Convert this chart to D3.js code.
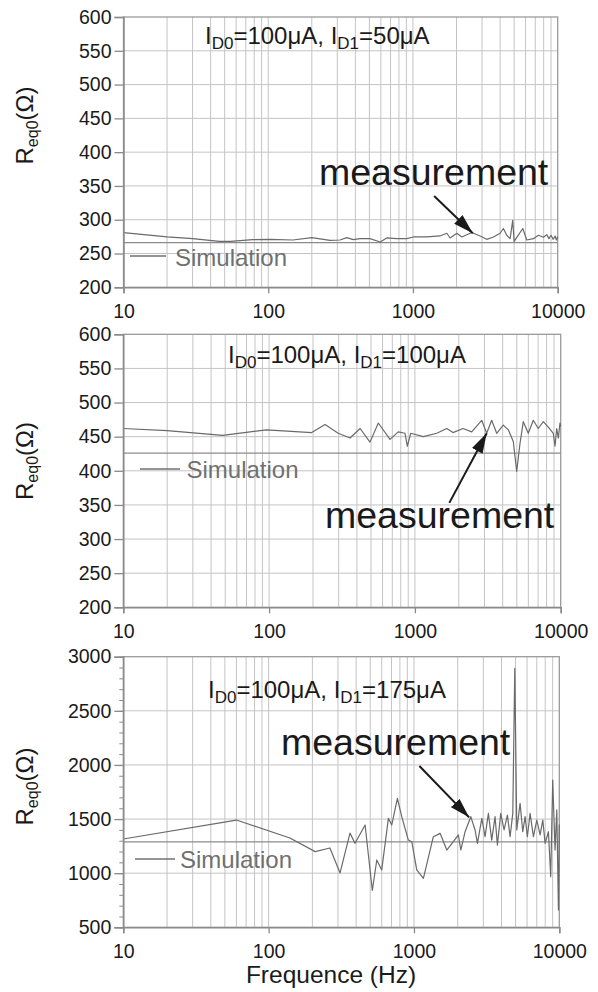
<!DOCTYPE html>
<html><head><meta charset="utf-8">
<script src="https://cdn.jsdelivr.net/npm/d3@7"></script>
<style>body{margin:0;background:#fff}svg{display:block}text{font-family:"Liberation Sans",Arial,Helvetica,sans-serif}</style>
</head><body><svg id="c" width="598" height="992"></svg>
<script>
// ---------- data ----------
const xTicks = [10, 100, 1000, 10000];
const yTicksLow = [200, 250, 300, 350, 400, 450, 500, 550, 600];
const yTicksHigh = [500, 1000, 1500, 2000, 2500, 3000];
const yMinorHigh = [500,600,700,800,900,1000,1100,1200,1300,1400,1500,1600,1700,1800,1900,2000,2100,2200,2300,2400,2500,2600,2700,2800,2900,3000];

const simFreq = [10, 10000];
const sim1 = [266, 266];
const sim2 = [426, 426];
const sim3 = [1290, 1290];

const freq1 = [10,20,30,46,55,78,103,148,200,267,313,349,387,431,505,593,659,771,906,1007,1245,1538,1714,1805,2010,2175,2548,2908,3236,3597,4000,4213,4445,4690,4890,5000,5217,5738,6115,6800,7360,7975,8400,8700,9000,9300,9600,9800,10000];
const meas1 = [281,274.5,272,268,268,270.5,271,270,273.5,269.5,270,273.5,270.5,272,272,267,273,272,272,274.5,274.5,276,280,273,280,274.5,281,276,271,274.5,280,287,277,272,299,268,274,287,270,272,277,274,278,272,277,271,276,270,275];

const freq2 = [10,20,48,96,196,242,298,359,421,492,561,675,769,855,887,936,1142,1412,1653,1825,2138,2453,2873,3107,3363,3639,4039,4371,4731,4991,5258,5539,5993,6486,7016,7597,8222,8896,9141,9390,9638,9886,10000];
const meas2 = [462,459,452,460,456,468,455,448,462,442,470,446,457,455,436,455,450,455,462,456,462,457,474,455,474,455,467,460,443,399,440,472,455,474,462,472,464,455,436,462,448,470,465];

const freq3 = [10,60,140,209,264,310,363,393,461,517,555,600,667,703,769,824,915,966,1045,1161,1359,1513,1682,1867,2021,2100,2248,2460,2633,2733,2930,3085,3251,3428,3614,3750,3955,4169,4395,4586,4786,4939,5098,5373,5605,5817,6030,6295,6637,7000,7379,7700,7985,8415,8730,9012,9346,9609,9862,10000];
const meas3 = [1316,1491,1325,1199,1233,1002,1370,1276,1445,840,1122,1030,1507,1445,1692,1522,1306,1291,1030,953,1337,1368,1214,1291,1353,1214,1383,1522,1399,1276,1507,1337,1553,1306,1522,1260,1553,1399,1537,1337,1553,2893,1399,1645,1383,1522,1337,1553,1337,1491,1353,1491,1276,1383,968,1861,1214,1584,660,1450];

const titles = [
  ["I","D0","=100μA, ","I","D1","=50μA"],
  ["I","D0","=100μA, ","I","D1","=100μA"],
  ["I","D0","=100μA, ","I","D1","=175μA"]
];
const legendLabel = "Simulation";
const annotLabel = "measurement";
const xLabel = "Frequence (Hz)";
// arrow [tailFreq, tailVal, tipFreq, tipVal]
const arrows = [[1400,335,2590,280],[1722,353,3107,455],[1090,1990,2395,1516]];

// ---------- layout ----------
const panels = [
  {x0:123.5,x1:557.7,y0:17,y1:287.3,dom:[200,600],ticks:yTicksLow,minor:null,freq:freq1,meas:meas1,sim:sim1,
   title:[205,44],leg:{x1:130,x2:166,y:256,tx:175,ty:265.5},ann:[319,185],ylab:125.5},
  {x0:123.3,x1:560.7,y0:334.3,y1:607.3,dom:[200,600],ticks:yTicksLow,minor:null,freq:freq2,meas:meas2,sim:sim2,
   title:[228,363],leg:{x1:140,x2:180,y:469,tx:186.5,ty:478},ann:[325,528.3],ylab:461},
  {x0:123.3,x1:559.3,y0:656.7,y1:927.3,dom:[500,3000],ticks:yTicksHigh,minor:yMinorHigh,freq:freq3,meas:meas3,sim:sim3,
   title:[208,698],leg:{x1:135,x2:175,y:859,tx:180,ty:868},ann:[281,755],ylab:786.5}
];

const svg = d3.select("#c");
svg.append("defs").append("marker")
  .attr("id","ah").attr("markerUnits","userSpaceOnUse")
  .attr("viewBox","0 0 20 12").attr("refX",20).attr("refY",6)
  .attr("markerWidth",20).attr("markerHeight",12).attr("orient","auto")
  .append("path").attr("d","M0,0 L20,6 L0,12 Z").attr("fill","#1a1a1a");

panels.forEach((p,i)=>{
  const x = d3.scaleLog().domain([10,10000]).range([p.x0,p.x1]);
  const y = d3.scaleLinear().domain(p.dom).range([p.y1,p.y0]);
  const g = svg.append("g");

  // vertical grid
  g.append("g").selectAll("line").data(x.ticks().filter(d=>d>10&&d<10000)).join("line")
    .attr("x1",d=>x(d)).attr("x2",d=>x(d)).attr("y1",p.y0).attr("y2",p.y1)
    .attr("stroke","#c4c4c4").attr("stroke-width",1);
  // horizontal grid
  g.append("g").selectAll("line").data(p.ticks.slice(1,-1)).join("line")
    .attr("x1",p.x0).attr("x2",p.x1).attr("y1",d=>y(d)).attr("y2",d=>y(d))
    .attr("stroke","#c4c4c4").attr("stroke-width",1);

  // frame
  g.append("rect").attr("x",p.x0).attr("y",p.y0).attr("width",p.x1-p.x0).attr("height",p.y1-p.y0)
    .attr("fill","none").attr("stroke","#9a9a9a").attr("stroke-width",1.3);

  // simulation line
  const line = d3.line().x(d=>x(d[0])).y(d=>y(d[1]));
  g.append("path").datum(simFreq.map((f,k)=>[f,p.sim[k]])).attr("d",line)
    .attr("fill","none").attr("stroke","#8c8c8c").attr("stroke-width",1.3);
  // measurement
  g.append("path").datum(p.freq.map((f,k)=>[f,p.meas[k]])).attr("d",line)
    .attr("fill","none").attr("stroke","#6a6a6a").attr("stroke-width",1.2).attr("stroke-linejoin","round");

  // axes
  const ya = g.append("g").attr("transform",`translate(${p.x0},0)`)
    .call(d3.axisLeft(y).tickValues(p.ticks).tickFormat(d3.format("d")).tickSize(9).tickPadding(3));
  if(p.minor){
    g.append("g").attr("transform",`translate(${p.x0},0)`)
      .call(d3.axisLeft(y).tickValues(p.minor).tickSize(4).tickFormat(""))
      .call(s=>s.select(".domain").remove())
      .selectAll("line").attr("stroke","#8a8a8a");
  }
  const xa = g.append("g").attr("transform",`translate(0,${p.y1})`)
    .call(d3.axisBottom(x).tickValues(xTicks).tickFormat(d3.format("d")).tickSize(6).tickPadding(11));
  [ya,xa].forEach(a=>{
    a.select(".domain").attr("stroke","#8a8a8a").attr("stroke-width",1.5);
    a.selectAll(".tick line").attr("stroke","#8a8a8a").attr("stroke-width",1.3);
    a.selectAll("text").attr("font-size","19.5px").attr("fill","#1a1a1a")
      .attr("font-family",'"Liberation Sans",Arial,sans-serif');
  });

  // title
  const t = titles[i];
  const tt = g.append("text").attr("x",p.title[0]).attr("y",p.title[1]).attr("font-size","24px").attr("fill","#1a1a1a");
  tt.append("tspan").text(t[0]);
  tt.append("tspan").attr("dy",5).attr("font-size","17px").text(t[1]);
  tt.append("tspan").attr("dy",-5).text(t[2]+t[3]);
  tt.append("tspan").attr("dy",5).attr("font-size","17px").text(t[4]);
  tt.append("tspan").attr("dy",-5).text(t[5]);

  // legend
  g.append("line").attr("x1",p.leg.x1).attr("x2",p.leg.x2).attr("y1",p.leg.y).attr("y2",p.leg.y)
    .attr("stroke","#707070").attr("stroke-width",1.3);
  g.append("text").attr("x",p.leg.tx).attr("y",p.leg.ty).attr("font-size","24px").attr("fill","#707070").text(legendLabel);

  // annotation
  g.append("text").attr("x",p.ann[0]).attr("y",p.ann[1]).attr("font-size","37.5px").attr("fill","#1a1a1a").text(annotLabel);
  const a = arrows[i];
  g.append("line").attr("x1",x(a[0])).attr("y1",y(a[1])).attr("x2",x(a[2])).attr("y2",y(a[3]))
    .attr("stroke","#1a1a1a").attr("stroke-width",2).attr("marker-end","url(#ah)");

  // y label
  const yl = g.append("text").attr("transform",`translate(33,${p.ylab}) rotate(-90)`)
    .attr("text-anchor","middle").attr("font-size","24px").attr("fill","#1a1a1a");
  yl.append("tspan").text("R");
  yl.append("tspan").attr("dy",5).attr("font-size","16px").text("eq0");
  yl.append("tspan").attr("dy",-5).text("(Ω)");
});

svg.append("text").attr("x",331).attr("y",983).attr("text-anchor","middle")
  .attr("font-size","24.5px").attr("fill","#1a1a1a").text(xLabel);
</script></body></html>
